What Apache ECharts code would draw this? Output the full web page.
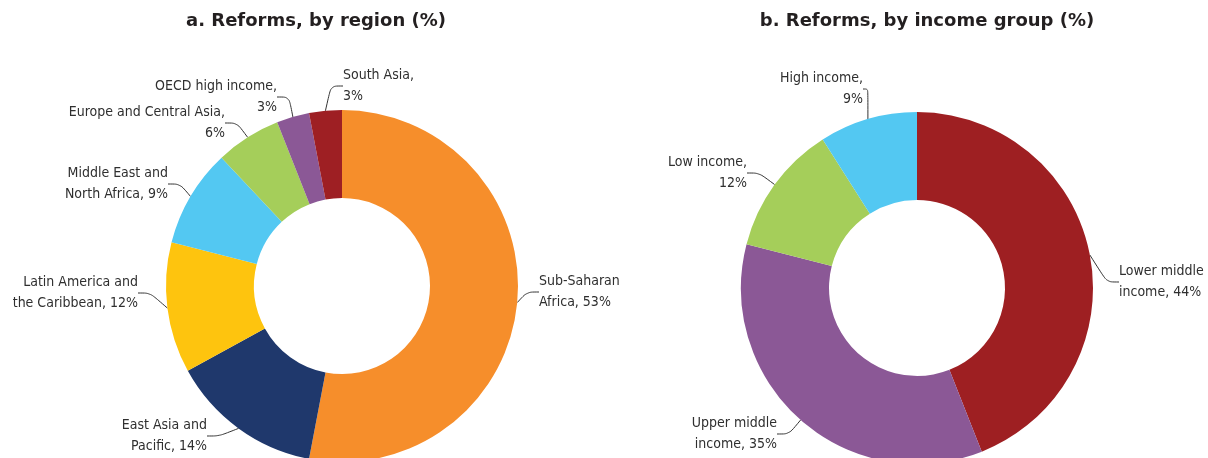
<!DOCTYPE html>
<html>
<head>
<meta charset="utf-8">
<script src="https://cdn.jsdelivr.net/npm/echarts@6/dist/echarts.min.js"></script>
<style>
  html, body { margin: 0; padding: 0; background: #fff; }
  #main { width: 1208px; height: 458px; }
</style>
</head>
<body>
<div id="main"></div>
<script>
// data
var regionNames = ['Sub-Saharan\nAfrica', 'East Asia and\nPacific', 'Latin America and\nthe Caribbean',
    'Middle East and\nNorth Africa', 'Europe and Central Asia', 'OECD high income', 'South Asia'];
var regionValues = [53, 14, 12, 9, 6, 3, 3];
var regionColors = ['#F68E2B', '#1F386C', '#FEC40E', '#53C8F2', '#A5CE5A', '#8B5896', '#9E1F23'];

var incomeNames = ['Lower middle\nincome', 'Upper middle\nincome', 'Low income', 'High income'];
var incomeValues = [44, 35, 12, 9];
var incomeColors = ['#9E1F22', '#8B5896', '#A5CE5A', '#53C8F2'];

// where each label sits (anchor x, middle y, alignment)
var regionLabelPos = [[539, 292, 'left'], [207, 436, 'right'], [138, 293, 'right'],
    [168, 184, 'right'], [225, 123, 'right'], [277, 97, 'right'], [343, 86, 'left']];
var incomeLabelPos = [[1119, 282, 'left'], [777, 434, 'right'], [747, 173, 'right'], [863, 89, 'right']];

var labelFont = '"Liberation Sans Narrow", "DejaVu Sans Condensed", sans-serif';

function toData(names, values, colors) {
    return names.map(function (n, i) {
        return { name: n, value: values[i], itemStyle: { color: colors[i] } };
    });
}

function labelText(p) {
    return p.name.indexOf('\n') >= 0 ? p.name + ', ' + p.value + '%' : p.name + ',\n' + p.value + '%';
}

function donut(center, data, pos) {
    return {
        type: 'pie',
        center: center,
        radius: [88, 176],
        startAngle: 90,
        clockwise: true,
        avoidLabelOverlap: false,
        data: data,
        label: {
            show: true,
            position: 'outside',
            formatter: labelText,
            fontFamily: labelFont,
            fontSize: 14,
            lineHeight: 21,
            color: '#2f2f2f'
        },
        labelLine: {
            show: true,
            length: 8,
            length2: 12,
            smooth: true,
            lineStyle: { color: '#333', width: 1 }
        },
        labelLayout: function (p) {
            var q = pos[p.dataIndex];
            return { x: q[0], y: q[1], align: q[2], verticalAlign: 'middle' };
        },
        emphasis: { disabled: true }
    };
}

var myChart = echarts.init(document.getElementById('main'));

var titleStyle = { fontFamily: 'DejaVu Sans', fontWeight: 'bold', fontSize: 18, color: '#231f20' };

var option = {
    animation: false,
    title: [{
        text: 'a. Reforms, by region (%)',
        left: 311,
        top: 7,
        textAlign: 'center',
        textStyle: titleStyle
    }, {
        text: 'b. Reforms, by income group (%)',
        left: 922,
        top: 7,
        textAlign: 'center',
        textStyle: titleStyle
    }],
    series: [
        donut([342, 286], toData(regionNames, regionValues, regionColors), regionLabelPos),
        donut([917, 288], toData(incomeNames, incomeValues, incomeColors), incomeLabelPos)
    ]
};

myChart.setOption(option);
</script>
</body>
</html>
